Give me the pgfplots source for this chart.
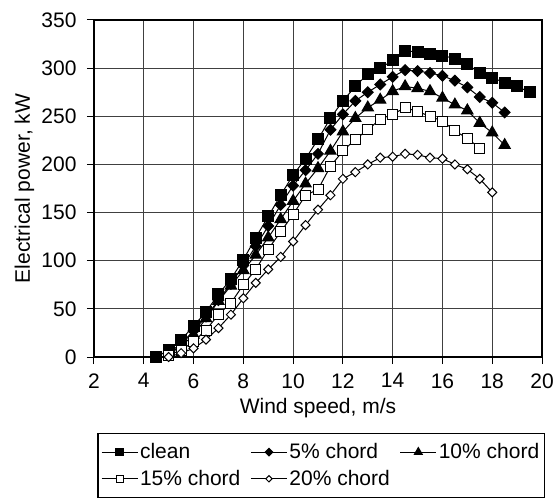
\documentclass[border=0pt]{standalone}
\usepackage{fontspec}
\setmainfont{Liberation Sans}
\usepackage{pgfplots}
\pgfplotsset{compat=1.18}

\newcommand\ff{\fontsize{21bp}{25bp}\selectfont}

\begin{document}
\begin{tikzpicture}
\begin{axis}[
  at={(0,0)}, anchor=south west,
  scale only axis, width=448bp, height=337bp,
  xmin=2, xmax=20, ymin=0, ymax=350,
  xtick={2,4,...,20}, ytick={0,50,...,350},
  tick align=outside, tick pos=left, major tick length=7bp,
  grid=major, major grid style={black!75, line width=1bp},
  axis line style={line width=1.4bp},
  every tick/.style={black, line width=1bp},
  /pgf/number format/assume math mode=true,
  tick label style={font=\ff},
  xticklabel style={yshift=-6bp},
  yticklabel style={xshift=-7bp},
  label style={font=\ff},
  xlabel={Wind speed, m/s},
  ylabel={Electrical power, kW},
  xlabel style={at={(axis description cs:0.5,-0.151)}, anchor=center},
  ylabel style={at={(axis description cs:-0.155,0.5)}, anchor=center},
  legend columns=3,
  legend style={at={(axis description cs:0.507,-0.226)}, anchor=north,
    draw=black, line width=1.2bp, font=\ff, inner xsep=3bp, inner ysep=8bp,
    row sep=6bp, cells={anchor=west},
    /tikz/every even column/.append style={column sep=8bp}},
  legend image code/.code={%
    \draw[mark repeat=2,mark phase=2,#1,every mark/.append style={scale=0.7}]
      plot coordinates {(0bp,0bp) (18bp,0bp) (36bp,0bp)};},
]
% clean
\addplot[black, line width=1bp, mark=square*, mark size=5.5bp,
  mark options={solid, fill=black}] coordinates {
  (4.5,0)(5,7)(5.5,18)(6,32)(6.5,47)(7,65)(7.5,81)(8,101)(8.5,124)(9,146)
  (9.5,168)(10,189)(10.5,206)(11,226)(11.5,248)(12,266)(12.5,281)(13,294)
  (13.5,300)(14,308)(14.5,318)(15,317)(15.5,315)(16,313)(16.5,310)(17,304)
  (17.5,295)(18,290)(18.5,285)(19,281)(19.5,275)};
\addlegendentry{clean}
% 5% chord
\addplot[black, line width=1bp, mark=square*, mark size=3.8bp,
  mark options={solid, rotate=45, fill=black}] coordinates {
  (5,4)(5.5,14)(6,27)(6.5,42)(7,59)(7.5,76)(8,95)(8.5,115)(9,136)(9.5,158)
  (10,178)(10.5,194)(11,211)(11.5,236)(12,252)(12.5,266)(13,275)(13.5,283)
  (14,291)(14.5,298)(15,297)(15.5,295)(16,292)(16.5,287)(17,280)(17.5,270)
  (18,264)(18.5,254)};
\addlegendentry{5\% chord}
% 10% chord
\addplot[black, line width=1bp, mark=triangle*, mark size=6.5bp,
  mark options={solid, fill=black}] coordinates {
  (5,3)(5.5,11)(6,23)(6.5,40)(7,58)(7.5,74)(8,90)(8.5,106)(9,124)(9.5,143)
  (10,162)(10.5,180)(11,196)(11.5,214)(12,234)(12.5,248)(13,259)(13.5,267)
  (14,276)(14.5,281)(15,279)(15.5,276)(16,269)(16.5,262)(17,256)(17.5,243)
  (18,233)(18.5,220)};
\addlegendentry{10\% chord}
% 15% chord
\addplot[black, line width=1bp, mark=square*, mark size=5bp,
  mark options={solid, fill=white}] coordinates {
  (5,2)(5.5,7)(6,16)(6.5,28)(7,44)(7.5,56)(8,75)(8.5,91)(9,112)(9.5,130)
  (10,148)(10.5,168)(11,174)(11.5,198)(12,214)(12.5,226)(13,236)(13.5,247)
  (14,252)(14.5,259)(15,255)(15.5,250)(16,245)(16.5,235)(17,227)(17.5,217)};
\addlegendentry{15\% chord}
% 20% chord
\addplot[black, line width=1bp, mark=square*, mark size=3.2bp,
  mark options={solid, rotate=45, fill=white}] coordinates {
  (5,0)(5.5,4)(6,9)(6.5,18)(7,30)(7.5,44)(8,61)(8.5,77)(9,91)(9.5,104)
  (10,120)(10.5,137)(11,153)(11.5,168)(12,185)(12.5,192)(13,200)(13.5,207)
  (14,208)(14.5,211)(15,210)(15.5,207)(16,206)(16.5,200)(17,195)(17.5,185)
  (18,171)};
\addlegendentry{20\% chord}
\end{axis}
\pgfresetboundingbox
\useasboundingbox (-94bp,-144bp) rectangle (463bp,357bp);
\end{tikzpicture}
\end{document}
